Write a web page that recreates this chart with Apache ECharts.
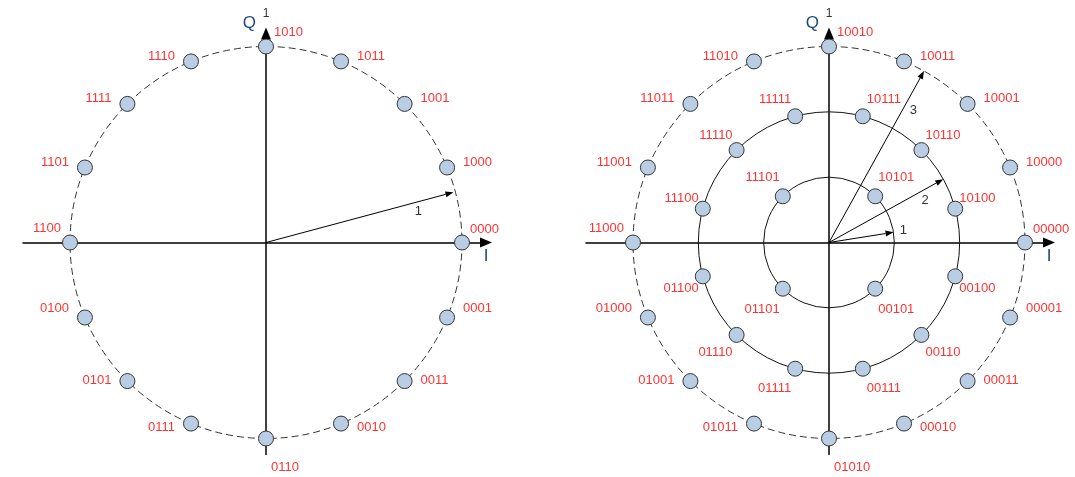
<!DOCTYPE html>
<html>
<head>
<meta charset="utf-8">
<script src="https://cdn.jsdelivr.net/npm/echarts@6/dist/echarts.min.js"></script>
<style>
  html, body { margin: 0; background: #fff; }
  #chart { width: 1075px; height: 477px; }
</style>
</head>
<body>
<div id="chart"></div>
<script>
// Angles are degrees counter-clockwise from the I axis; radii are in ring units.

// Left: 16-PSK, one ring.
const PSK_BITS = ["0000", "1000", "1001", "1011", "1010", "1110", "1111", "1101",
                  "1100", "0100", "0101", "0111", "0110", "0010", "0011", "0001"];
const PSK_ANGLE = [0, 22.5, 45, 67.5, 90, 112.5, 135, 157.5,
                   180, 202.5, 225, 247.5, 270, 292.5, 315, 337.5];
const PSK_RADIUS = [1, 1, 1, 1, 1, 1, 1, 1, 1, 1, 1, 1, 1, 1, 1, 1];
const PSK_RINGS = [1];
const PSK_VEC_ANGLE = [15];
const PSK_VEC_LENGTH = [0.99];
const PSK_VEC_TEXT = ["1"];

// Right: 4 + 12 + 16 points on rings of radius 1, 2, 3.
const APSK_BITS = [
  "10101", "11101", "01101", "00101",
  "10100", "10110", "10111", "11111", "11110", "11100",
  "01100", "01110", "01111", "00111", "00110", "00100",
  "00000", "10000", "10001", "10011", "10010", "11010", "11011", "11001",
  "11000", "01000", "01001", "01011", "01010", "00010", "00011", "00001",
];
const APSK_ANGLE = [
  45, 135, 225, 315,
  15, 45, 75, 105, 135, 165, 195, 225, 255, 285, 315, 345,
  0, 22.5, 45, 67.5, 90, 112.5, 135, 157.5, 180, 202.5, 225, 247.5, 270, 292.5, 315, 337.5,
];
const APSK_RADIUS = [
  1, 1, 1, 1,
  2, 2, 2, 2, 2, 2, 2, 2, 2, 2, 2, 2,
  3, 3, 3, 3, 3, 3, 3, 3, 3, 3, 3, 3, 3, 3, 3, 3,
];
const APSK_RINGS = [1, 2, 3];
const APSK_VEC_ANGLE = [9, 29, 61];
const APSK_VEC_LENGTH = [1, 2, 3];
const APSK_VEC_TEXT = ["1", "2", "3"];

const FONT = "'Liberation Sans', Arial, sans-serif";
const RED = "#ff3333";
const NAVY = "#1f497d";
const RING_PX = 196;    // outer ring radius on screen
const ARROW = [10, 12]; // axis arrowhead, across x along

const panels = [
  { cx: 266, cy: 242.5, bits: PSK_BITS, angle: PSK_ANGLE, radius: PSK_RADIUS, rings: PSK_RINGS,
    vAngle: PSK_VEC_ANGLE, vLen: PSK_VEC_LENGTH, vText: PSK_VEC_TEXT },
  { cx: 829, cy: 242.5, bits: APSK_BITS, angle: APSK_ANGLE, radius: APSK_RADIUS, rings: APSK_RINGS,
    vAngle: APSK_VEC_ANGLE, vLen: APSK_VEC_LENGTH, vText: APSK_VEC_TEXT },
];

const rad = (d) => (d * Math.PI) / 180;

// Labels sit on the outside of each point: beside it on the outer ring,
// diagonally above/below on the inner rings.
function labelFor(deg, ring, outer) {
  const c = Math.cos(rad(deg));
  const s = Math.sin(rad(deg));
  const side = c > 0.01 ? 1 : c < -0.01 ? -1 : 0;
  const align = side >= 0 ? "left" : "right";
  if (ring === outer) {
    if (side === 0) return s > 0 ? { align, offset: [8, -14] } : { align, offset: [5, 29] };
    if (Math.abs(s) < 0.01) return side > 0 ? { align, offset: [8, -13] } : { align, offset: [-9, -14] };
    // lower-half labels drift downward as they near the bottom
    const dy = s > 0 ? -5 : -18 + 24 * Math.abs(s);
    return { align, offset: [16 * side, dy] };
  }
  if (ring === 1) return { align, offset: [3 * side, s > 0 ? -19 : 21] };
  const dy = s > 0 ? -(8 + 9 * Math.abs(s)) : 10 + 10 * Math.abs(s);
  return { align, offset: [4 * side, dy] };
}

const grid = [], xAxis = [], yAxis = [], series = [], graphic = [];

panels.forEach((p, k) => {
  const outer = Math.max(...p.rings);
  const unit = RING_PX / outer;
  grid.push({
    left: p.cx - 243, top: p.cy - 215 + ARROW[1] / 2,
    width: 243 + 226 - ARROW[1] / 2, height: 215 - ARROW[1] / 2 + 212,
    containLabel: false, outerBoundsMode: "none",
  });
  const axisLine = {
    onZero: true, symbol: ["none", "triangle"], symbolSize: ARROW,
    lineStyle: { color: "#000", width: 1.5 },
  };
  xAxis.push({
    gridIndex: k, type: "value",
    min: -243 / unit, max: (226 - ARROW[1] / 2) / unit,
    axisLine, axisTick: { show: false }, axisLabel: { show: false }, splitLine: { show: false },
    name: "I", nameLocation: "end", nameGap: 0,
    nameTextStyle: { color: NAVY, fontSize: 17, fontFamily: FONT, align: "center", verticalAlign: "top", padding: [5, 0, 0, 0] },
  });
  yAxis.push({
    gridIndex: k, type: "value",
    min: -212 / unit, max: (215 - ARROW[1] / 2) / unit,
    axisLine, axisTick: { show: false }, axisLabel: { show: false }, splitLine: { show: false },
    name: "Q", nameLocation: "end", nameGap: 10,
    nameTextStyle: { color: NAVY, fontSize: 17, fontFamily: FONT, align: "right", verticalAlign: "middle", padding: [0, 10, 0, 0] },
  });

  // rings: outermost dashed, inner ones solid
  series.push({
    type: "custom", xAxisIndex: k, yAxisIndex: k, z: 1, silent: true,
    data: p.rings.map((r) => [r]),
    renderItem: (params, api) => {
      const r = api.value(0);
      const o = api.coord([0, 0]);
      const e = api.coord([r, 0]);
      const dashed = r === outer;
      return {
        type: "circle",
        shape: { cx: o[0], cy: o[1], r: e[0] - o[0] },
        style: { fill: null, stroke: dashed ? "#333" : "#111", lineWidth: 1, lineDash: dashed ? [7, 4] : null },
      };
    },
  });

  // radius vectors with their length labels
  series.push({
    type: "custom", xAxisIndex: k, yAxisIndex: k, z: 2, silent: true,
    data: p.vAngle.map((a, i) => [a, p.vLen[i]]),
    renderItem: (params, api) => {
      const i = params.dataIndex;
      const a = rad(p.vAngle[i]);
      const len = p.vLen[i];
      const o = api.coord([0, 0]);
      const t = api.coord([len * Math.cos(a), len * Math.sin(a)]);
      const dx = t[0] - o[0], dy = t[1] - o[1];
      const L = Math.hypot(dx, dy);
      const ux = dx / L, uy = dy / L;
      const bx = t[0] - ux * 8, by = t[1] - uy * 8;
      let lx, ly;
      if (L < 100) { lx = t[0] + ux * 10; ly = t[1] + uy * 10; }
      else { lx = o[0] + dx * 0.8 - uy * 9.5; ly = o[1] + dy * 0.8 + ux * 9.5; }
      return {
        type: "group",
        children: [
          { type: "line", shape: { x1: o[0], y1: o[1], x2: bx, y2: by }, style: { stroke: "#000", lineWidth: 1 } },
          { type: "polygon", shape: { points: [[t[0], t[1]], [bx - uy * 3, by + ux * 3], [bx + uy * 3, by - ux * 3]] }, style: { fill: "#000" } },
          { type: "text", x: lx, y: ly, style: { text: p.vText[i], fill: "#333", font: "13px " + FONT, align: "center", verticalAlign: "middle" } },
        ],
      };
    },
  });

  series.push({
    type: "scatter", xAxisIndex: k, yAxisIndex: k, z: 3,
    symbol: "circle", symbolSize: 15,
    itemStyle: { color: "#b9cde5", borderColor: "#333", borderWidth: 1, opacity: 1 },
    label: { show: true, position: "inside", formatter: "{b}", color: RED, fontSize: 13, fontFamily: FONT, verticalAlign: "middle" },
    data: p.bits.map((b, i) => ({
      name: b,
      value: [p.radius[i] * Math.cos(rad(p.angle[i])), p.radius[i] * Math.sin(rad(p.angle[i]))],
      label: labelFor(p.angle[i], p.radius[i], outer),
    })),
  });

  graphic.push({
    type: "text", x: p.cx, y: 14,
    style: { text: "1", fill: "#333", font: "12px " + FONT, align: "center", verticalAlign: "middle" },
  });
});

const chart = echarts.init(document.getElementById("chart"));
chart.setOption({ animation: false, grid, xAxis, yAxis, series, graphic });
window.addEventListener("resize", () => chart.resize());
</script>
</body>
</html>
